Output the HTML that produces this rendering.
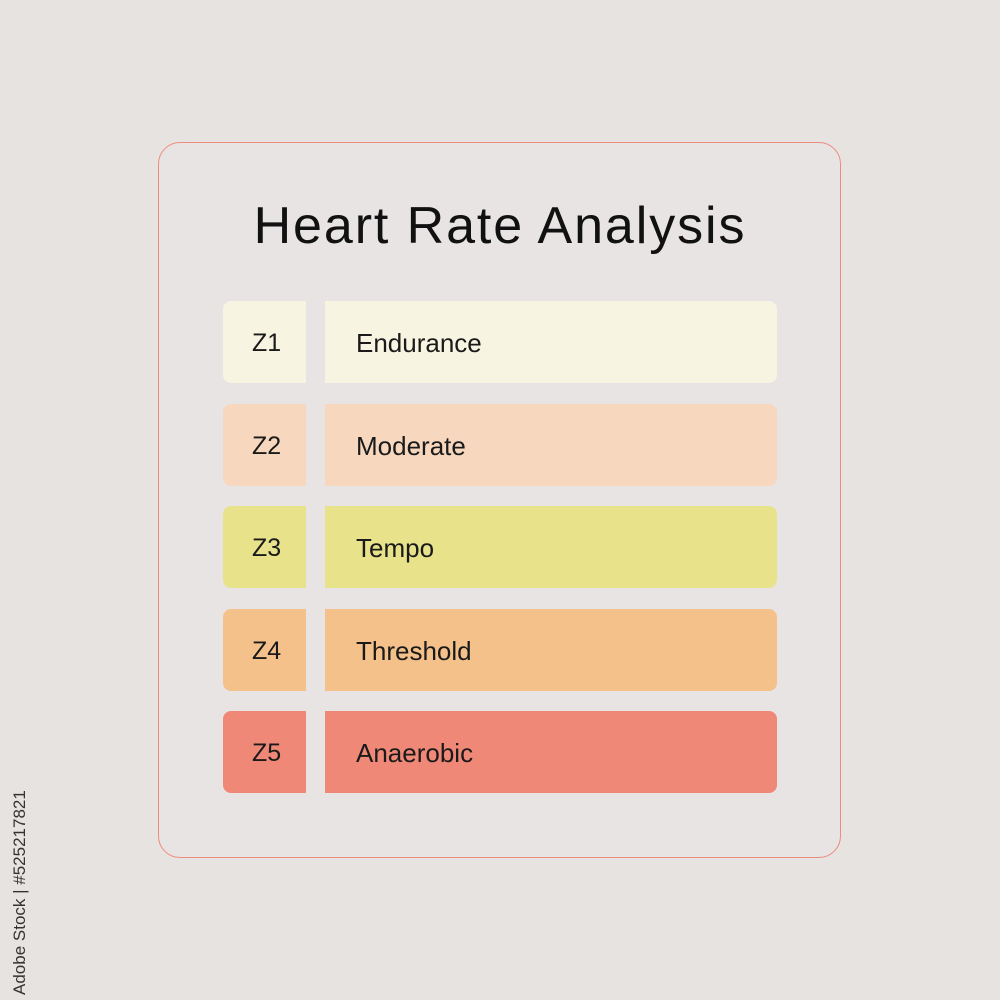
<!DOCTYPE html>
<html><head><meta charset="utf-8"><style>
html,body{margin:0;padding:0;}
body{width:1000px;height:1000px;background:#e6e3e1;position:relative;overflow:hidden;font-family:"Liberation Sans",sans-serif;}
.card{position:absolute;left:158px;top:142px;width:681px;height:714px;border:1.5px solid #ef8b7b;border-radius:22px;background:#e7e4e3;}
.title{position:absolute;left:0;width:1000px;top:196px;text-align:center;font-size:52px;color:#111;letter-spacing:1.9px;}
.z{position:absolute;left:223px;width:83px;height:82px;border-radius:8px 0 0 8px;font-size:25px;line-height:84px;padding-left:29px;box-sizing:border-box;color:#1a1a1a;}
.n{position:absolute;left:325px;width:452px;height:82px;border-radius:0 8px 8px 0;font-size:26px;line-height:84px;padding-left:31px;box-sizing:border-box;color:#1a1a1a;}
.wm{position:absolute;left:10px;top:995px;transform:rotate(-90deg);transform-origin:0 0;font-size:17px;color:#333;white-space:nowrap;}
</style></head><body>
<div class="card"></div>
<div class="title">Heart Rate Analysis</div>
<div id="rows"></div>
<div class="wm">Adobe Stock | #525217821</div>
<script>
const zones=["Z1","Z2","Z3","Z4","Z5"];
const names=["Endurance","Moderate","Tempo","Threshold","Anaerobic"];
const colors=["#f7f4e1","#f7d8bf","#e8e38b","#f5c18b","#f08878"];
const rows=document.getElementById('rows');
zones.forEach((z,i)=>{
  const top=301+i*102.5;
  const a=document.createElement('div');
  a.className='z';a.style.top=top+'px';a.style.background=colors[i];a.textContent=z;
  
  
  const b=document.createElement('div');
  b.className='n';b.style.top=top+'px';b.style.background=colors[i];b.textContent=names[i];
  
  
  rows.appendChild(a);rows.appendChild(b);
});
</script>
</body></html>
